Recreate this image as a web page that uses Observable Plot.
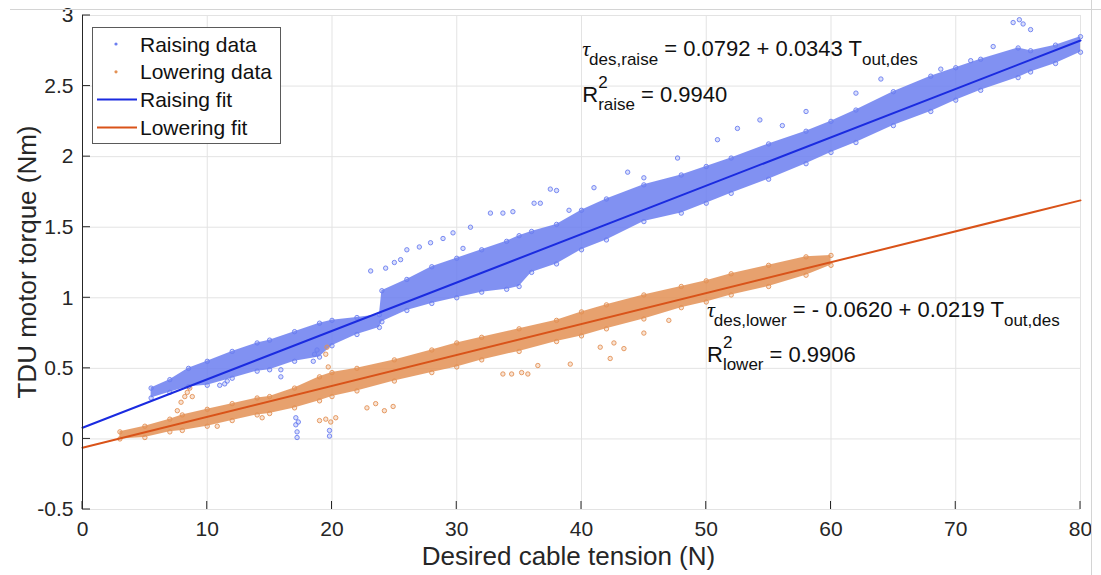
<!DOCTYPE html>
<html>
<head>
<meta charset="utf-8">
<script src="https://cdn.jsdelivr.net/npm/d3@7"></script>
<script src="https://cdn.jsdelivr.net/npm/@observablehq/plot@0.6"></script>
<style>
  html, body { margin: 0; padding: 0; background: white; }
  #chart { position: relative; width: 1101px; height: 575px; }
</style>
</head>
<body>
<div id="chart"></div>
<script>
// ---- Axis ticks ----
const xTicks = [0, 10, 20, 30, 40, 50, 60, 70, 80];
const yTicks = [-0.5, 0, 0.5, 1, 1.5, 2, 2.5, 3];

// ---- Raising data cloud: x, lower edge, upper edge ----
const raiseX  = [5.5, 7, 8.5, 10, 12, 14, 15, 17, 19, 20, 22, 23.8, 24, 26, 28, 30, 32, 34, 35, 36, 38, 40, 42, 45, 48, 50, 52, 55, 58, 60, 62, 65, 68, 70, 72, 75, 76, 78, 80];
const raiseLo = [0.29, 0.33, 0.37, 0.38, 0.43, 0.48, 0.49, 0.55, 0.58, 0.66, 0.74, 0.79, 0.83, 0.91, 0.96, 1.00, 1.04, 1.06, 1.08, 1.18, 1.24, 1.34, 1.41, 1.54, 1.60, 1.67, 1.74, 1.84, 1.95, 2.03, 2.10, 2.22, 2.32, 2.40, 2.47, 2.56, 2.60, 2.66, 2.74];
const raiseHi = [0.36, 0.42, 0.50, 0.55, 0.62, 0.68, 0.70, 0.76, 0.82, 0.84, 0.86, 0.88, 1.05, 1.13, 1.22, 1.28, 1.34, 1.40, 1.44, 1.47, 1.52, 1.62, 1.70, 1.80, 1.87, 1.93, 1.99, 2.09, 2.18, 2.25, 2.33, 2.46, 2.57, 2.63, 2.69, 2.77, 2.75, 2.79, 2.85];
// scattered raising points outside the dense band
const raiseOutX = [11, 11.4, 11.6, 15.9, 15.9, 17.1, 17.1, 17.2, 17.2, 17.3, 18.5, 18.6, 18.8, 19.8, 19.8, 23.1, 24.3, 25, 25.5, 26, 27, 27.9, 28.9, 29.7, 30.5, 31.1, 32.7, 33.7, 34.5, 36.2, 36.7, 37.5, 38, 39, 41, 43.7, 45, 47.7, 50.9, 52.5, 54.3, 56.1, 58, 62, 64, 68.8, 71.2, 73, 74.6, 75.1, 75.4, 76];
const raiseOutY = [0.38, 0.39, 0.41, 0.44, 0.49, 0.15, 0.10, 0.05, 0.01, 0.12, 0.55, 0.60, 0.63, 0.02, 0.06, 1.19, 1.21, 1.25, 1.27, 1.34, 1.36, 1.39, 1.42, 1.46, 1.35, 1.50, 1.60, 1.60, 1.61, 1.67, 1.67, 1.77, 1.76, 1.62, 1.78, 1.89, 1.85, 1.99, 2.12, 2.20, 2.26, 2.22, 2.32, 2.45, 2.55, 2.62, 2.68, 2.78, 2.95, 2.97, 2.94, 2.90];

// ---- Lowering data cloud ----
const lowerX  = [3, 5, 7, 8, 10, 12, 14, 15, 17, 19, 20, 22, 25, 28, 30, 32, 35, 38, 40, 42, 45, 48, 50, 52, 55, 58, 60];
const lowerLo = [0.00, 0.01, 0.05, 0.06, 0.09, 0.13, 0.17, 0.18, 0.22, 0.27, 0.30, 0.34, 0.41, 0.47, 0.51, 0.56, 0.62, 0.69, 0.73, 0.78, 0.85, 0.93, 0.97, 1.02, 1.08, 1.16, 1.23];
const lowerHi = [0.05, 0.09, 0.14, 0.17, 0.21, 0.25, 0.29, 0.30, 0.36, 0.44, 0.47, 0.50, 0.56, 0.63, 0.68, 0.72, 0.78, 0.84, 0.90, 0.95, 1.02, 1.08, 1.12, 1.17, 1.23, 1.29, 1.30];
const lowerOutX = [7.6, 7.9, 8.2, 8.4, 8.6, 8.8, 10.8, 14.4, 19, 19.5, 19.9, 20.3, 19.5, 19.6, 19.7, 22.8, 23.5, 24.2, 24.9, 33.7, 34.4, 35.2, 35.7, 36.5, 39.1, 41.5, 42.3, 42.6, 43.4, 45, 47];
const lowerOutY = [0.20, 0.26, 0.30, 0.33, 0.36, 0.30, 0.09, 0.15, 0.13, 0.14, 0.12, 0.15, 0.60, 0.65, 0.51, 0.22, 0.25, 0.20, 0.23, 0.46, 0.46, 0.47, 0.46, 0.52, 0.53, 0.65, 0.57, 0.68, 0.64, 0.75, 0.84];

// ---- Fit lines (from equations) ----
const fitX = [0, 80];
const raiseFit = [0.0792, 2.8232];
const lowerFit = [-0.0620, 1.6900];

// ---- Colours ----
const cRaiseData = "#6b7ef0";
const cLowerData = "#e39155";
const cRaiseFit = "#1a2be0";
const cLowerFit = "#d95319";

const band = (xs, lo, hi) => xs.map((x, i) => ({x, lo: lo[i], hi: hi[i]}));
const pts = (xs, ys) => xs.map((x, i) => ({x, y: ys[i]}));
const raiseBand = band(raiseX, raiseLo, raiseHi);
const lowerBand = band(lowerX, lowerLo, lowerHi);
const raiseEdge = [...pts(raiseX, raiseLo), ...pts(raiseX, raiseHi)];
const lowerEdge = [...pts(lowerX, lowerLo), ...pts(lowerX, lowerHi)];
const raiseFitLine = pts(fitX, raiseFit);
const lowerFitLine = pts(fitX, lowerFit);

const FONT = "'Liberation Sans', Arial, Helvetica, sans-serif";
const dotStyle = c => ({x: "x", y: "y", r: 2.2, stroke: c, strokeWidth: 0.9, fill: c, fillOpacity: 0.25});

const chart = Plot.plot({
  width: 1101,
  height: 575,
  marginLeft: 82,
  marginRight: 21,
  marginTop: 15,
  marginBottom: 66,
  style: {fontFamily: FONT, fontSize: "21px", background: "white", color: "#262626", overflow: "visible"},
  x: {domain: [0, 80], ticks: xTicks},
  y: {domain: [-0.5, 3], ticks: yTicks},
  marks: [
    Plot.gridX(xTicks, {stroke: "#e3e3e3", strokeOpacity: 1}),
    Plot.gridY(yTicks, {stroke: "#e3e3e3", strokeOpacity: 1}),
    Plot.areaY(raiseBand, {x: "x", y1: "lo", y2: "hi", fill: cRaiseData, fillOpacity: 0.85, curve: "linear"}),
    Plot.areaY(lowerBand, {x: "x", y1: "lo", y2: "hi", fill: cLowerData, fillOpacity: 0.85, curve: "linear"}),
    Plot.dot(raiseEdge, dotStyle(cRaiseData)),
    Plot.dot(pts(raiseOutX, raiseOutY), dotStyle(cRaiseData)),
    Plot.dot(lowerEdge, dotStyle(cLowerData)),
    Plot.dot(pts(lowerOutX, lowerOutY), dotStyle(cLowerData)),
    Plot.line(raiseFitLine, {x: "x", y: "y", stroke: cRaiseFit, strokeWidth: 2}),
    Plot.line(lowerFitLine, {x: "x", y: "y", stroke: cLowerFit, strokeWidth: 2}),
    Plot.ruleX([0], {stroke: "#262626", strokeWidth: 1}),
    Plot.axisX({ticks: xTicks, tickSize: 0, tickPadding: 12, tickFormat: d => String(d), label: null, fill: "#262626"}),
    Plot.axisY({ticks: yTicks, tickSize: 0, tickPadding: 9, tickFormat: d => String(d), label: null, fill: "#262626"})
  ]
});

document.getElementById("chart").appendChild(chart);

const svg = d3.select(chart);
const sx = chart.scale("x"), sy = chart.scale("y");
const X = v => sx.apply(v), Y = v => sy.apply(v);

// Inward tick marks (MATLAB style), placed with the plot's scales
const tk = svg.append("g").attr("stroke", "#262626").attr("stroke-width", 1);
yTicks.forEach(t => tk.append("line").attr("x1", X(0)).attr("x2", X(0) + 8).attr("y1", Y(t)).attr("y2", Y(t)));
xTicks.forEach(t => tk.append("line").attr("x1", X(t)).attr("x2", X(t)).attr("y1", Y(-0.5)).attr("y2", Y(-0.5) - 8));

// Axis titles
svg.append("text").attr("x", X(39)).attr("y", 565).attr("text-anchor", "middle")
  .attr("font-family", FONT).attr("font-size", 26).attr("fill", "#262626")
  .text("Desired cable tension (N)");
svg.append("text").attr("transform", `translate(36,${(Y(3) + Y(-0.5)) / 2}) rotate(-90)`)
  .attr("text-anchor", "middle").attr("font-family", FONT).attr("font-size", 26).attr("fill", "#262626")
  .text("TDU motor torque (Nm)");

// Equation annotations
function equation(x0, y0, sub, rhs) {
  const t = svg.append("text").attr("x", X(x0)).attr("y", Y(y0)).attr("text-anchor", "start")
    .attr("font-family", FONT).attr("font-size", 22).attr("fill", "#111");
  t.append("tspan").attr("font-family", "'Liberation Serif', 'DejaVu Serif', serif").attr("font-style", "italic").text("τ");
  t.append("tspan").attr("font-size", 17).attr("dy", 9).attr("dx", -1).text(sub);
  t.append("tspan").attr("dy", -9).text(" " + rhs);
  t.append("tspan").attr("font-size", 17).attr("dy", 9).text("out,des");
}
function rsq(x0, y0, sub, val) {
  const px = X(x0), py = Y(y0);
  const mk = (x, y, size, s) => svg.append("text").attr("x", x).attr("y", y).attr("text-anchor", "start")
    .attr("font-family", FONT).attr("font-size", size).attr("fill", "#111").text(s);
  const r = mk(px, py, 22, "R");
  const w = r.node().getComputedTextLength();
  mk(px + w, py - 14, 17, "2");
  const s = mk(px + w, py + 8, 17, sub);
  const ws = s.node().getComputedTextLength();
  mk(px + w + ws + 6, py, 22, "= " + val);
}
equation(40.1, 2.71, "des,raise", "= 0.0792 + 0.0343 T");
rsq(40.1, 2.385, "raise", "0.9940");
equation(50.1, 0.861, "des,lower", "= - 0.0620 + 0.0219 T");
rsq(50.1, 0.542, "lower", "0.9906");

// Legend
const lg = svg.append("g");
lg.append("rect").attr("x", 92.5).attr("y", 27.5).attr("width", 188).attr("height", 116)
  .attr("fill", "white").attr("stroke", "#5a5a5a").attr("stroke-width", 1);
const entries = [
  {label: "Raising data", kind: "dot", color: cRaiseData},
  {label: "Lowering data", kind: "dot", color: cLowerData},
  {label: "Raising fit", kind: "line", color: cRaiseFit},
  {label: "Lowering fit", kind: "line", color: cLowerFit}
];
entries.forEach((e, i) => {
  const cy = 44 + i * 27.8;
  if (e.kind === "dot") {
    lg.append("circle").attr("cx", 116).attr("cy", cy).attr("r", 1.6).attr("fill", e.color);
  } else {
    lg.append("line").attr("x1", 97).attr("x2", 137).attr("y1", cy).attr("y2", cy)
      .attr("stroke", e.color).attr("stroke-width", 2);
  }
  lg.append("text").attr("x", 140).attr("y", cy + 7.5).attr("text-anchor", "start").attr("font-family", FONT)
    .attr("font-size", 21).attr("fill", "#111").text(e.label);
});

// Scan border lines of the original figure
svg.append("line").attr("x1", 10).attr("x2", 1101).attr("y1", 9.5).attr("y2", 9.5).attr("stroke", "#d4d4d4");
svg.append("line").attr("x1", 1091.5).attr("x2", 1091.5).attr("y1", 0).attr("y2", 575).attr("stroke", "#d4d4d4");
</script>
</body>
</html>
